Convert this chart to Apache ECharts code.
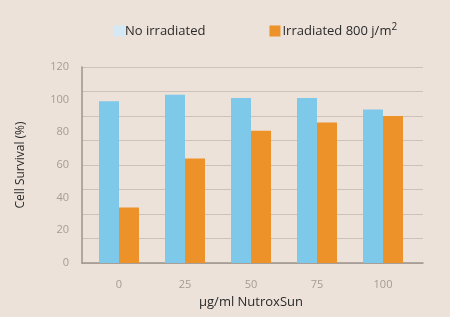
<!DOCTYPE html>
<html>
<head>
<meta charset="utf-8">
<script src="https://cdn.jsdelivr.net/npm/echarts@6/dist/echarts.min.js"></script>
<style>
  html, body { margin: 0; padding: 0; background: #ece2da; }
  #main { width: 450px; height: 317px; }
</style>
</head>
<body>
<div id="main"></div>
<script>
// 数据
const doses = ["0", "25", "50", "75", "100"];
const noIrradiated = [99, 103, 101, 101, 94];
const irradiated = [34, 64, 81, 86, 90];
const legendNames = ["No irradiated", "Irradiated 800 j/m2"];

const chart = echarts.init(document.getElementById("main"));
const font = "Open Sans";

const option = {
  backgroundColor: "#ece2da",
  textStyle: { fontFamily: font },
  legend: {
    left: 114,
    top: 22,
    padding: 0,
    itemWidth: 11,
    itemHeight: 11,
    itemGap: 64,
    icon: "rect",
    textStyle: {
      color: "#2a2a2a",
      fontSize: 13,
      fontFamily: font,
      rich: {
        t: { fontSize: 13, color: "#2a2a2a", fontFamily: font },
        sup: { fontSize: 10, color: "#2a2a2a", fontFamily: font, verticalAlign: "bottom", padding: [0, 0, 8, 0] },
      },
    },
    formatter: function (name) {
      if (name === legendNames[1]) {
        return "{t|Irradiated 800 j/m}{sup|2}";
      }
      return "{t|" + name + "}";
    },
    data: [
      { name: legendNames[0], itemStyle: { color: "#d4e9f3" }, textStyle: { padding: [0, 0, 0, -5] } },
      { name: legendNames[1], itemStyle: { color: "#ec9229" }, textStyle: { padding: [0, 0, 0, -3] } },
    ],
  },
  grid: [
    // 网格线用
    { left: 82, right: 27, top: 67, bottom: 54 },
    // 柱子用
    { left: 86, right: 34, top: 67, bottom: 54 },
  ],
  xAxis: [
    {
      type: "value",
      gridIndex: 0,
      min: 0,
      max: 1,
      axisLine: { show: true, onZero: false, lineStyle: { color: "#9c948c", width: 1.5 } },
      axisTick: { show: false },
      axisLabel: { show: false },
      splitLine: { show: false },
    },
    {
      type: "category",
      gridIndex: 1,
      data: doses,
      axisLine: { show: false },
      axisTick: { show: false },
      axisLabel: { color: "#a89b90", fontSize: 11, margin: 16 },
      name: "µg/ml NutroxSun",
      nameLocation: "middle",
      nameGap: 33,
      nameTextStyle: { color: "#2a2a2a", fontSize: 13 },
    },
  ],
  yAxis: [
    {
      type: "value",
      gridIndex: 0,
      min: 0,
      max: 120,
      interval: 15,
      axisLine: { show: true, lineStyle: { color: "#9c948c", width: 1.5 } },
      axisTick: { show: false },
      axisLabel: { show: false },
      splitLine: { show: true, lineStyle: { color: "#cbc2ba", width: 1 } },
    },
    {
      type: "value",
      gridIndex: 1,
      min: 0,
      max: 120,
      interval: 20,
      axisLine: { show: false },
      axisTick: { show: false },
      splitLine: { show: false },
      axisLabel: { color: "#a89b90", fontSize: 11, margin: 17 },
      name: "Cell Survival (%)",
      nameLocation: "middle",
      nameGap: 59,
      nameTextStyle: { color: "#2a2a2a", fontSize: 12 },
    },
  ],
  series: [
    {
      name: legendNames[0],
      type: "bar",
      xAxisIndex: 1,
      yAxisIndex: 1,
      barWidth: 20,
      barGap: "0%",
      itemStyle: { color: "#7ec8ea" },
      data: noIrradiated,
    },
    {
      name: legendNames[1],
      type: "bar",
      xAxisIndex: 1,
      yAxisIndex: 1,
      barWidth: 20,
      barGap: "0%",
      itemStyle: { color: "#ec9229" },
      data: irradiated,
    },
  ],
};

chart.setOption(option);
</script>
</body>
</html>
